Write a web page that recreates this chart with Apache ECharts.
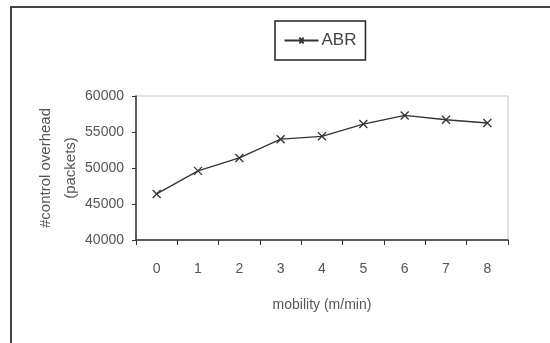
<!DOCTYPE html>
<html>
<head>
<meta charset="utf-8">
<script src="https://cdn.jsdelivr.net/npm/echarts@6/dist/echarts.min.js"></script>
<style>
  html, body { margin: 0; padding: 0; background: #fff; }
  #chart { width: 550px; height: 343px; }
</style>
</head>
<body>
<div id="chart"></div>
<script>
// mobility (m/min)
const mobility = ['0', '1', '2', '3', '4', '5', '6', '7', '8']
// ABR control overhead (packets)
const abrValues = [46400, 49600, 51400, 54000, 54400, 56100, 57300, 56700, 56250]
const yTicks = [40000, 45000, 50000, 55000, 60000]

const crossPath = 'path://M0,0L10,10M10,0L0,10'

const chart = echarts.init(document.getElementById('chart'))
const option = {
  animation: false,
  backgroundColor: '#fff',
  textStyle: { fontFamily: 'Liberation Sans, Arial, sans-serif' },
  graphic: [
    {
      type: 'polyline',
      shape: { points: [[11, 343], [11, 7], [550, 7]] },
      style: { stroke: '#444', lineWidth: 2, fill: null },
    },
  ],
  legend: {
    left: 275,
    top: 21,
    padding: [11, 9, 11, 7],
    borderColor: '#222',
    borderWidth: 1.5,
    itemWidth: 34,
    itemHeight: 8,
    itemGap: 4,
    textStyle: { fontSize: 17, color: '#444', padding: [0, 0, 0, -2] },
    data: [{ name: 'ABR', icon: 'path://M0,5L34,5M15,2L19,8M19,2L15,8' }],
  },
  grid: {
    left: 136,
    right: 42,
    top: 96,
    bottom: 103,
    show: true,
    borderColor: '#c8c8c8',
    borderWidth: 1,
  },
  xAxis: {
    type: 'category',
    data: mobility,
    boundaryGap: true,
    name: 'mobility (m/min)',
    nameLocation: 'middle',
    nameGap: 58,
    nameMoveOverlap: false,
    nameTextStyle: { fontSize: 14, color: '#555' },
    axisLine: { lineStyle: { color: '#333', width: 1.5 } },
    axisTick: { show: true, length: 5, lineStyle: { color: '#333' } },
    axisLabel: { fontSize: 14, color: '#555', margin: 22 },
    splitLine: { show: false },
  },
  yAxis: {
    type: 'value',
    min: yTicks[0],
    max: yTicks[yTicks.length - 1],
    interval: 5000,
    name: '#control overhead\n(packets)',
    nameLocation: 'middle',
    nameRotate: 90,
    nameGap: 53,
    nameMoveOverlap: false,
    nameTextStyle: { fontSize: 15, color: '#555', lineHeight: 25 },
    axisLine: { show: true, lineStyle: { color: '#333', width: 1.5 } },
    axisTick: { show: true, length: 4, inside: false, lineStyle: { color: '#333' } },
    axisLabel: { fontSize: 14, color: '#555', margin: 12, formatter: (v) => String(v) },
    splitLine: { show: false },
  },
  series: [
    {
      name: 'ABR',
      type: 'line',
      data: abrValues,
      symbol: crossPath,
      symbolSize: 8,
      lineStyle: { color: '#333', width: 1.3 },
      itemStyle: { color: 'none', borderColor: '#333', borderWidth: 1.3 },
    },
  ],
}
chart.setOption(option)
</script>
</body>
</html>
